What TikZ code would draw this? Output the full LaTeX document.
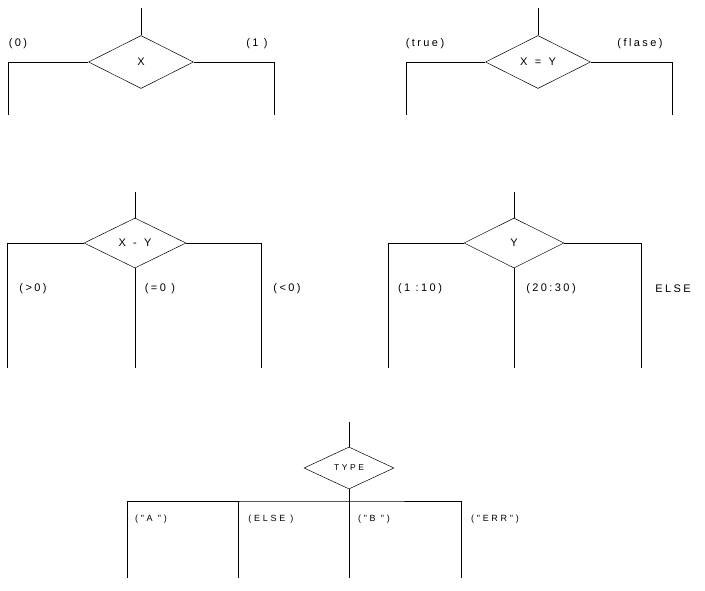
\documentclass[tikz,border=0pt]{standalone}
\usepackage{fontspec}
\setmainfont{Liberation Sans}[LetterSpace=22]
\newfontfamily\smallcase{Liberation Sans}[LetterSpace=30]
\usetikzlibrary{shapes.geometric}

\begin{document}
\begin{tikzpicture}[
  x=1pt, y=-1pt,
  font=\fontsize{11}{13}\selectfont,
  decide/.style={diamond, draw=black, line width=0.5pt, inner sep=0pt,
    minimum width=105pt, minimum height=53pt},
  branch/.style={draw=black, line width=0.7pt},
  case/.style={inner sep=0pt},
  tcase/.style={case, font=\smallcase\fontsize{9}{11}\selectfont},
]
\useasboundingbox (0,0) rectangle (705,590);

% two-way: X
\node[decide] (dX) at (141,62) {X};
\coordinate (xIn) at (141,8);
\coordinate (xZero) at (8,115);
\coordinate (xOne) at (274,115);
\draw[branch] (xIn) -- (dX);
\draw[branch] (dX.west) -| (xZero);
\draw[branch] (dX.east) -| (xOne);
\node[case] (lZero) at (18,44) {(0)};
\node[case] (lOne) at (257,44) {(1 )};

% two-way: X = Y
\node[decide] (dXY) at (538,62) {X \,=\, Y};
\coordinate (xyIn) at (538,8);
\coordinate (xyTrue) at (406,115);
\coordinate (xyFalse) at (672,115);
\draw[branch] (xyIn) -- (dXY);
\draw[branch] (dXY.west) -| (xyTrue);
\draw[branch] (dXY.east) -| (xyFalse);
\node[case] (lTrue) at (425,44) {(true)};
\node[case] (lFalse) at (640,44) {(flase)};

% three-way: X - Y
\node[decide, minimum width=102pt, minimum height=50pt] (dXmY) at (135,243) {X \,-\, Y};
\coordinate (dIn) at (135,192);
\coordinate (dGt) at (7,368);
\coordinate (dEq) at (135,368);
\coordinate (dLt) at (261,368);
\draw[branch] (dIn) -- (dXmY);
\draw[branch] (dXmY.west) -| (dGt);
\draw[branch] (dXmY.south) -- (dEq);
\draw[branch] (dXmY.east) -| (dLt);
\node[case] (lGt) at (33,289) {(>0)};
\node[case] (lEq) at (160,289) {(=0 )};
\node[case] (lLt) at (287,289) {(<0)};

% three-way: Y
\node[decide, minimum width=100pt, minimum height=50pt] (dY) at (514,243) {Y};
\coordinate (yIn) at (514,192);
\coordinate (yLow) at (388,368);
\coordinate (yMid) at (514,368);
\coordinate (yElse) at (641,368);
\draw[branch] (yIn) -- (dY);
\draw[branch] (dY.west) -| (yLow);
\draw[branch] (dY.south) -- (yMid);
\draw[branch] (dY.east) -| (yElse);
\node[case] (lLow) at (420,289) {(1 :10)};
\node[case] (lMid) at (551,289) {(20:30)};
\node[case] (lElse) at (673,289) {ELSE};

% four-way: TYPE
\node[decide, minimum width=90pt, minimum height=42pt,
  font=\smallcase\fontsize{8.5}{10}\selectfont] (dType) at (349,468) {TYPE};
\coordinate (tIn) at (349,422);
\coordinate (tJoin) at (349,501);
\coordinate (tA) at (127,578);
\coordinate (tElse) at (238,578);
\coordinate (tB) at (349,578);
\coordinate (tErr) at (461,578);
\draw[branch] (tIn) -- (dType);
\draw[branch] (tA) |- (tJoin) -| (tErr);
\draw[branch] (dType.south) -- (tB);
\draw[branch] (tElse) -- (tElse |- tJoin);
\node[tcase] (lA) at (151,519) {("A ")};
\node[tcase] (lElseT) at (271,519) {(ELSE )};
\node[tcase] (lB) at (374,519) {("B ")};
\node[tcase] (lErr) at (495,519) {("ERR")};
\end{tikzpicture}
\end{document}
